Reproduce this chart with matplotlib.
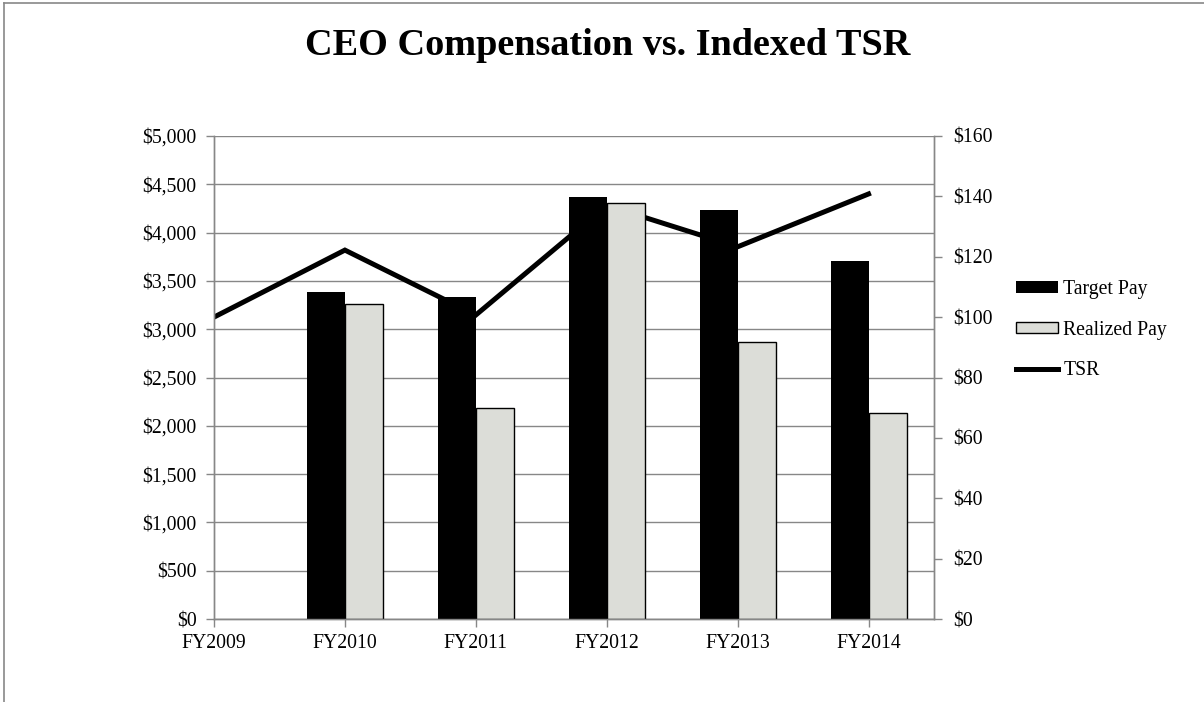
import matplotlib.pyplot as plt
from matplotlib.lines import Line2D
import numpy as np

# Data
years = ["FY2009", "FY2010", "FY2011", "FY2012", "FY2013", "FY2014"]
target_pay = [np.nan, 3380, 3330, 4370, 4230, 3705]
realized_pay = [np.nan, 3260, 2180, 4305, 2865, 2130]
tsr = [100.0, 122.2, 100.7, 137.0, 123.3, 140.8]

plt.rcParams['font.family'] = ['Liberation Serif', 'DejaVu Serif']
fs = 14.2
grey = '#878787'

fig = plt.figure(figsize=(12.04, 7.02), dpi=100)
ax = fig.add_axes([214 / 1204, 1 - 619 / 702, 720 / 1204, 483 / 702])
ax2 = ax.twinx()

x = np.arange(len(years))
w = 0.29

ax.set_xlim(0, 5.5)
ax.set_ylim(0, 5000)
ax2.set_ylim(0, 160)

ax.bar(x - w / 2, target_pay, w, color='black', label='Target Pay', zorder=3)
ax.bar(x + w / 2, realized_pay, w, color='#dcddd8', edgecolor='black',
       linewidth=1, label='Realized Pay', zorder=3)
# TSR on the secondary scale, but drawn behind the bars
ax.plot(x, tsr, color='black', lw=3.6, transform=ax2.transData,
        solid_joinstyle='miter', zorder=2, label='TSR')
ax.set_xlim(0, 5.5)
ax.set_ylim(0, 5000)

ax.set_yticks(np.arange(0, 5001, 500))
ax.set_yticklabels([f"${v:,}" for v in range(0, 5001, 500)])
ax2.set_yticks(np.arange(0, 161, 20))
ax2.set_yticklabels([f"${v}" for v in range(0, 161, 20)])
ax.set_xticks(x)
ax.set_xticklabels(years)

ax.yaxis.grid(True, color=grey, lw=1)
ax.set_axisbelow(True)

for a in (ax, ax2):
    a.spines['top'].set_visible(False)
    for s in ('left', 'right', 'bottom'):
        a.spines[s].set_color(grey)
        a.spines[s].set_linewidth(1)
    a.tick_params(colors=grey, labelcolor='black', labelsize=fs,
                  length=6, width=1, direction='out')
ax.tick_params(axis='y', pad=6.5)
ax2.tick_params(axis='y', pad=8)
ax.tick_params(axis='x', pad=5)

fig.text(608 / 1204, 1 - 55 / 702, "CEO Compensation vs. Indexed TSR",
         ha='center', va='baseline', fontsize=27.5, fontweight='bold')

handles, labels = ax.get_legend_handles_labels()
order = [labels.index(l) for l in ['Target Pay', 'Realized Pay', 'TSR']]
fig.legend([handles[i] for i in order], [labels[i] for i in order],
           loc='center left', bbox_to_anchor=(1008 / 1204, 1 - 330 / 702),
           frameon=False, fontsize=fs, handlelength=2.15, handleheight=0.55,
           handletextpad=0.25, labelspacing=1.1, borderaxespad=0)

# outer chart border (left and top)
fig.add_artist(Line2D([4 / 1204, 4 / 1204], [0, 1 - 3 / 702], color=grey,
                      lw=1.2, transform=fig.transFigure))
fig.add_artist(Line2D([4 / 1204, 1], [1 - 3 / 702, 1 - 3 / 702], color=grey,
                      lw=1.2, transform=fig.transFigure))

fig.savefig("out.png", dpi=100)
